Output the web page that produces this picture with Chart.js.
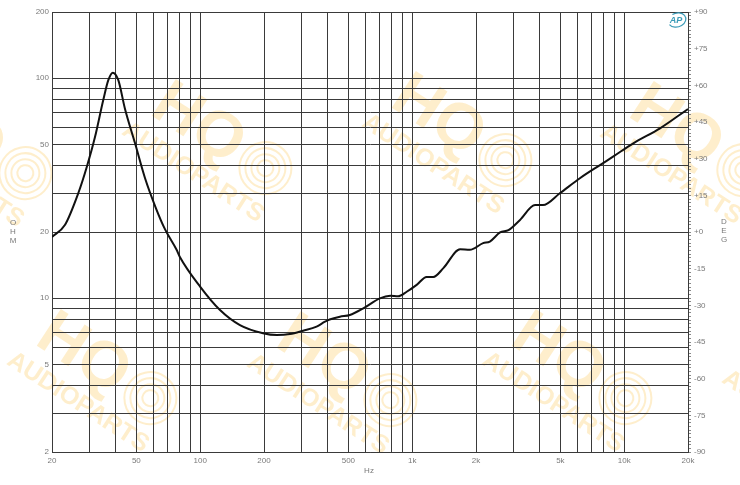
<!DOCTYPE html>
<html>
<head>
<meta charset="utf-8">
<script src="https://cdn.jsdelivr.net/npm/chart.js@4"></script>
<style>
  html, body { margin: 0; padding: 0; background: #fff; }
  #wrap { width: 740px; height: 485px; position: relative; }
</style>
</head>
<body>
<div id="wrap"><canvas id="impChart"></canvas></div>
<script>
// ---- data ----
const freqHz = [20, 23, 26.6, 29.2, 31.9, 34.9, 36.9, 38.7, 41.1, 44.2, 49.3, 54.9, 62, 68.2, 77.4, 80.2, 99.9,
  124, 154, 198, 230, 265, 306, 354, 388, 408, 456, 508, 588, 704, 788, 858, 942, 1050, 1170, 1258, 1403,
  1683, 1870, 2160, 2325, 2596, 2846, 3226, 3800, 4140, 4970, 6180, 7690, 8860, 11040, 14760, 20000];
const impedanceOhm = [19.0, 21.5, 30, 39.6, 54, 79.6, 98.2, 106, 98, 72.5, 50.6, 35.2, 25.5, 20.6, 16.6, 15.4, 11.3,
  8.84, 7.55, 6.93, 6.8, 6.87, 7.12, 7.43, 7.82, 8.0, 8.24, 8.39, 9.0, 9.99, 10.27, 10.2, 10.7, 11.5, 12.5, 12.5, 13.7,
  16.7, 16.6, 17.8, 18.1, 19.9, 20.4, 22.7, 26.5, 26.5, 30, 35.1, 40.3, 44, 50.6, 59.2, 72.5];

const freqGrid = [20, 30, 40, 50, 60, 70, 80, 90, 100, 200, 300, 400, 500, 600, 700, 800, 900,
  1000, 2000, 3000, 4000, 5000, 6000, 7000, 8000, 9000, 10000, 20000];
const freqLabels = { 20: '20', 50: '50', 100: '100', 200: '200', 500: '500', 1000: '1k', 2000: '2k', 5000: '5k', 10000: '10k', 20000: '20k' };
const ohmGrid = [2, 3, 4, 5, 6, 7, 8, 9, 10, 20, 30, 40, 50, 60, 70, 80, 90, 100, 200];
const ohmLabels = [2, 5, 10, 20, 50, 100, 200];
const degLabels = [-90, -75, -60, -45, -30, -15, 0, 15, 30, 45, 60, 75, 90];
const degMinorStep = 1.5;

const GRID = '#3a3a3a';
const LABEL = '#7a7a7a';
const FONT = 'Liberation Sans, Arial, sans-serif';

// watermark logo positions (top-left of "HQ")
const logoSpots = [[-70, 85], [170, 80], [410, 72], [648, 82], [55, 310], [295, 312], [530, 310], [770, 328]];

function drawLogo(ctx, x, y) {
    ctx.save();
    ctx.translate(x, y);
    ctx.rotate(33 * Math.PI / 180);
    ctx.fillStyle = 'rgba(252, 208, 115, 0.36)';
    ctx.strokeStyle = 'rgba(252, 208, 115, 0.36)';
    ctx.font = 'bold 64px ' + FONT;
    ctx.textBaseline = 'alphabetic';
    ctx.fillText('HQ', 0, 40);
    ctx.font = 'bold 25px ' + FONT;
    ctx.fillText('AUDIOPARTS', -12, 72);
    // speaker symbol
    ctx.lineWidth = 2;
    for (let r = 8; r <= 26; r += 6) {
        ctx.beginPath();
        ctx.arc(128, 22, r, 0, Math.PI * 2);
        ctx.stroke();
    }
    ctx.restore();
}

const decor = {
    id: 'decor',
    beforeDraw(chart) {
        const ctx = chart.ctx;
        ctx.save();
        ctx.fillStyle = '#fff';
        ctx.fillRect(0, 0, chart.width, chart.height);
        logoSpots.forEach(p => drawLogo(ctx, p[0], p[1]));
        ctx.restore();
    },
    afterDraw(chart) {
        const ctx = chart.ctx;
        ctx.save();
        ctx.fillStyle = LABEL;
        ctx.font = '8px ' + FONT;
        ctx.textAlign = 'center';
        ctx.textBaseline = 'middle';
        'OHM'.split('').forEach((c, i) => ctx.fillText(c, 13, 223 + i * 8.7));
        'DEG'.split('').forEach((c, i) => ctx.fillText(c, 724, 222 + i * 9));
        ctx.fillText('Hz', 369, 471);
        // AP badge
        ctx.strokeStyle = '#3c9cb8';
        ctx.fillStyle = '#3c9cb8';
        ctx.lineWidth = 1.2;
        ctx.beginPath();
        ctx.ellipse(677, 20, 9, 7, -0.3, -0.6 * Math.PI, 0.9 * Math.PI);
        ctx.stroke();
        ctx.font = 'italic bold 9px ' + FONT;
        ctx.fillText('AP', 676, 21);
        ctx.restore();
    }
};

new Chart(document.getElementById('impChart'), {
    type: 'line',
    data: {
        labels: freqHz,
        datasets: [{
            data: freqHz.map((f, i) => ({ x: f, y: impedanceOhm[i] })),
            borderColor: '#111',
            borderWidth: 2,
            pointRadius: 0,
            cubicInterpolationMode: 'monotone',
            yAxisID: 'y'
        }]
    },
    options: {
        responsive: true,
        maintainAspectRatio: false,
        animation: false,
        devicePixelRatio: 1,
        layout: { padding: { top: 12, left: 0, right: 0, bottom: 0 } },
        plugins: { legend: { display: false }, tooltip: { enabled: false } },
        scales: {
            x: {
                type: 'logarithmic',
                min: 20, max: 20000,
                afterBuildTicks: s => { s.ticks = freqGrid.map(v => ({ value: v })); },
                afterFit: s => { s.height = 33; },
                grid: { color: GRID, lineWidth: 1, drawTicks: false },
                border: { color: GRID },
                ticks: {
                    autoSkip: false, maxRotation: 0, padding: 4,
                    color: LABEL, font: { family: FONT, size: 8 },
                    callback: v => freqLabels[v] || ''
                }
            },
            y: {
                type: 'logarithmic',
                position: 'left',
                min: 2, max: 200,
                afterBuildTicks: s => { s.ticks = ohmGrid.map(v => ({ value: v })); },
                afterFit: s => { s.width = 52; },
                grid: { color: GRID, lineWidth: 1, drawTicks: false },
                border: { color: GRID },
                ticks: {
                    autoSkip: false, padding: 3,
                    color: LABEL, font: { family: FONT, size: 8 },
                    callback: v => ohmLabels.includes(v) ? String(v) : ''
                }
            },
            y2: {
                type: 'linear',
                position: 'right',
                min: -90, max: 90,
                afterBuildTicks: s => {
                    const t = [];
                    for (let v = -90; v <= 90.001; v += degMinorStep) t.push({ value: Math.round(v * 10) / 10 });
                    s.ticks = t;
                },
                afterFit: s => { s.width = 52; },
                grid: { drawOnChartArea: false, drawTicks: true, tickLength: 3, tickColor: '#888' },
                border: { color: GRID },
                ticks: {
                    autoSkip: false, padding: 3,
                    color: LABEL, font: { family: FONT, size: 8 },
                    callback: v => degLabels.includes(v) ? (v >= 0 ? '+' + v : String(v)) : ''
                }
            }
        }
    },
    plugins: [decor]
});
</script>
</body>
</html>
